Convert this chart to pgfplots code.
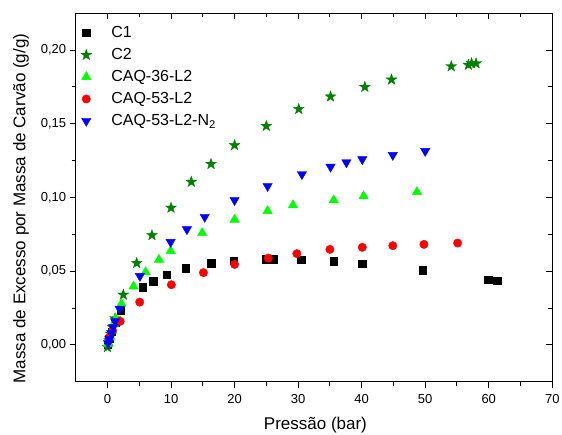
\documentclass[border=0pt]{standalone}
\usepackage{fontspec}
\setmainfont{Liberation Sans}
\usepackage{pgfplots}
\pgfplotsset{compat=1.18}

\definecolor{cgreen}{RGB}{0,128,0}
\definecolor{lgreen}{RGB}{0,255,0}

% filled five-pointed star
\pgfdeclareplotmark{fstar}{%
  \pgfpathmoveto{\pgfpointpolar{90}{1.25\pgfplotmarksize}}%
  \pgfpathlineto{\pgfpointpolar{126}{0.5\pgfplotmarksize}}%
  \pgfpathlineto{\pgfpointpolar{162}{1.25\pgfplotmarksize}}%
  \pgfpathlineto{\pgfpointpolar{198}{0.5\pgfplotmarksize}}%
  \pgfpathlineto{\pgfpointpolar{234}{1.25\pgfplotmarksize}}%
  \pgfpathlineto{\pgfpointpolar{270}{0.5\pgfplotmarksize}}%
  \pgfpathlineto{\pgfpointpolar{306}{1.25\pgfplotmarksize}}%
  \pgfpathlineto{\pgfpointpolar{342}{0.5\pgfplotmarksize}}%
  \pgfpathlineto{\pgfpointpolar{18}{1.25\pgfplotmarksize}}%
  \pgfpathlineto{\pgfpointpolar{54}{0.5\pgfplotmarksize}}%
  \pgfpathclose
  \pgfusepathqfillstroke}

\pgfplotsset{
  frame/.style={
    at={(75.7pt,52.3pt)}, anchor=south west,
    scale only axis, width=476.6pt, height=368.4pt,
    xmin=-5, xmax=70, ymin=-0.025, ymax=0.225,
    xtick={0,10,...,70}, ytick={0,0.05,0.1,0.15,0.2},
    minor x tick num=1, minor y tick num=1,
    major tick length=6pt, minor tick length=4pt,
    axis line style={line width=1.1pt},
    tick style={line width=1pt, black},
  },
}

\begin{document}
\begin{tikzpicture}
\path[use as bounding box] (0,0) rectangle (562pt,434pt);

\begin{axis}[
  frame,
  xtick pos=left, ytick pos=left, tick align=outside,
  /pgf/number format/assume math mode=true,
  /pgf/number format/use comma,
  yticklabel style={/pgf/number format/fixed, /pgf/number format/fixed zerofill,
    /pgf/number format/precision=2},
  xticklabel style={yshift=-3pt},
  scaled y ticks=false,
  ticklabel style={font=\fontsize{13}{15}\selectfont},
  xlabel={Pressão (bar)},
  ylabel={Massa de Excesso por Massa de Carvão (g/g)},
  label style={font=\fontsize{17}{20}\selectfont},
  xlabel style={at={(axis description cs:0.503,-0.1284)}, anchor=base},
  ylabel style={at={(axis description cs:-0.115,0.47)}, anchor=center},
  legend style={at={(axis description cs:0.005,0.977)}, anchor=north west,
    draw=none, fill=none, inner sep=0pt, row sep=0pt, column sep=15pt,
    font=\fontsize{16}{19}\selectfont,
    cells={anchor=west}},
  legend image code/.code={
    \pgfpathrectangle{\pgfpoint{-8pt}{-11pt}}{\pgfpoint{16pt}{22pt}}%
    \pgfusepath{discard}%
    \draw[mark repeat=1,#1] plot coordinates {(0pt,0pt)};},
]

\addplot[only marks, mark=square*, black, mark size=3.7pt] coordinates {
(0,0) (0.3,0.004) (0.7,0.009) (1.2,0.015) (2.1,0.0235) (5.5,0.0392)
(7.2,0.0433) (9.3,0.0478) (12.3,0.0519) (16.3,0.0555) (19.9,0.0573)
(24.9,0.058) (26.2,0.058) (30.5,0.0578) (35.6,0.0569) (40.1,0.0551)
(49.6,0.0508) (59.9,0.0444) (61.3,0.0437)
};
\addlegendentry{C1}

\addplot[only marks, mark=fstar, cgreen, mark size=4.6pt, line width=0.3pt] coordinates {
(0,-0.0016) (0.25,0.003) (0.5,0.0075) (0.8,0.012) (1.2,0.018) (2.5,0.034)
(4.6,0.0555) (7,0.0744) (10,0.093) (13.2,0.1106) (16.3,0.1227) (20,0.1355)
(25,0.1485) (30.1,0.160) (35.1,0.1685) (40.5,0.175) (44.7,0.180)
(54.1,0.189) (56.8,0.190) (57.3,0.191) (58,0.191)
};
\addlegendentry{C2}

\addplot[only marks, mark=triangle*, lgreen, mark size=5.4pt] coordinates {
(0.1,0.0007) (0.4,0.005) (0.8,0.0097) (1.0,0.0143) (1.3,0.0177) (2.2,0.0279)
(4.1,0.0397) (6.0,0.0494) (8.1,0.0578) (9.94,0.0637) (14.9,0.0759)
(20.0,0.085) (25.2,0.0909) (29.2,0.0948) (35.6,0.0982) (40.3,0.1009)
(48.7,0.1038)
};
\addlegendentry{CAQ-36-L2}

\addplot[only marks, mark=*, red, mark size=4.2pt] coordinates {
(0.25,0.005) (0.8,0.0097) (2.0,0.016) (5.07,0.029) (10.05,0.0408)
(15.1,0.049) (20.0,0.0546) (25.3,0.0589) (29.8,0.0619) (35.0,0.0648)
(40.1,0.0662) (44.9,0.0673) (49.8,0.0682) (55.1,0.0691)
};
\addlegendentry{CAQ-53-L2}

\addplot[only marks, mark=triangle*, blue, mark size=5.4pt, mark options={rotate=180}] coordinates {
(0.1,0.001) (0.3,0.004) (0.6,0.008) (0.9,0.012) (1.2,0.016) (1.9,0.0245)
(5.1,0.0467) (9.94,0.0698) (12.5,0.0784) (15.3,0.0868) (20.0,0.0982)
(25.2,0.1077) (30.6,0.1158) (35.1,0.1208) (37.6,0.1238) (40.1,0.1259)
(44.9,0.1288) (50.0,0.1315)
};
\addlegendentry{CAQ-53-L2-N\textsubscript{2}}
\end{axis}

\begin{axis}[
  frame,
  xtick pos=right, ytick pos=right, tick align=inside,
  xticklabels={}, yticklabels={},
]
\end{axis}
\end{tikzpicture}
\end{document}
